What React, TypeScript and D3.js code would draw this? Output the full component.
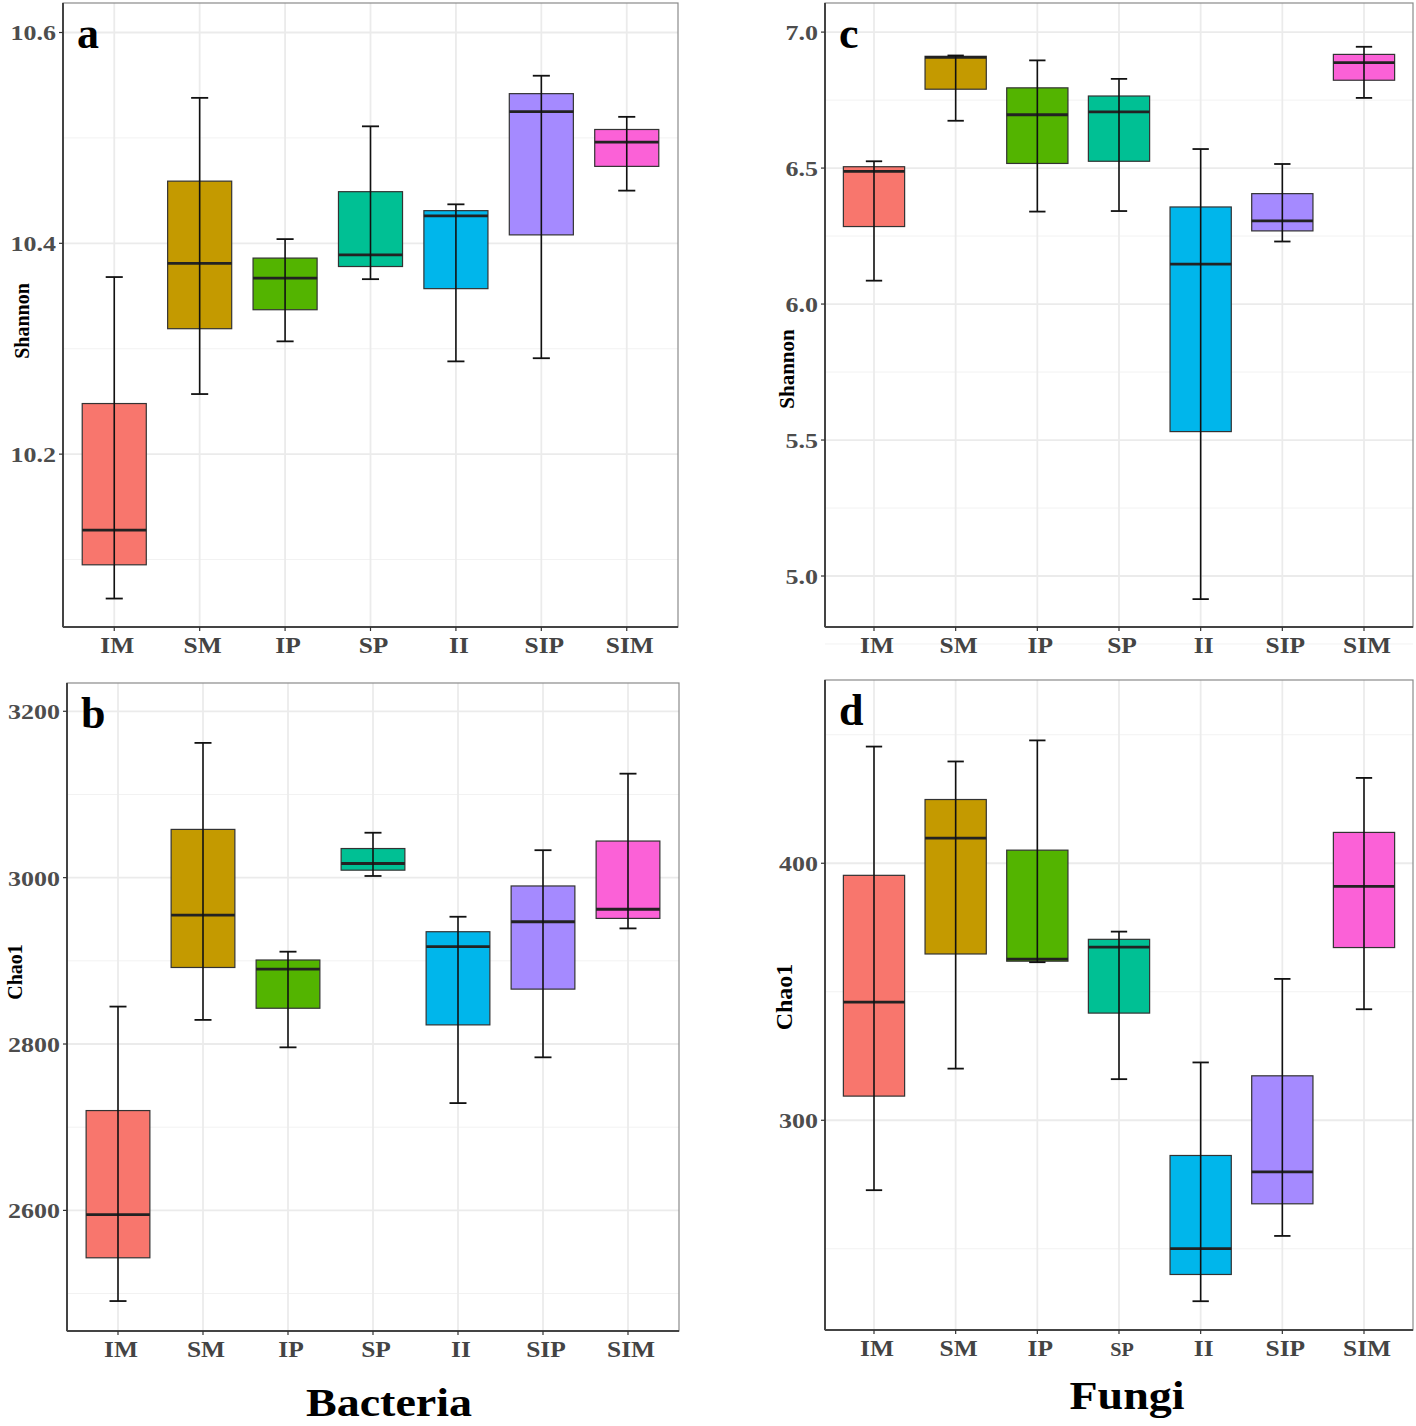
import React from "react";
import * as d3 from "d3";

const categories = ["IM", "SM", "IP", "SP", "II", "SIP", "SIM"];
const colors = ["#F8766D", "#C49A00", "#53B400", "#00C094", "#00B6EB", "#A58AFF", "#FB61D7"];

// [low whisker, Q1, median, Q3, high whisker]
const bacteriaShannon = [
  [10.063, 10.095, 10.128, 10.248, 10.368],
  [10.257, 10.319, 10.381, 10.459, 10.538],
  [10.307, 10.337, 10.367, 10.386, 10.404],
  [10.366, 10.378, 10.389, 10.449, 10.511],
  [10.288, 10.357, 10.426, 10.431, 10.437],
  [10.291, 10.408, 10.525, 10.542, 10.559],
  [10.45, 10.473, 10.496, 10.508, 10.52],
];
const bacteriaChao1 = [
  [2491, 2543, 2595, 2720, 2845],
  [2829, 2892, 2955, 3058, 3162],
  [2796, 2843, 2890, 2901, 2911],
  [3002, 3009, 3017, 3035, 3054],
  [2729, 2823, 2917, 2935, 2953],
  [2784, 2866, 2947, 2990, 3033],
  [2939, 2951, 2962, 3044, 3125],
];
const fungiShannon = [
  [6.086, 6.285, 6.488, 6.505, 6.525],
  [6.674, 6.79, 6.907, 6.911, 6.914],
  [6.34, 6.517, 6.696, 6.795, 6.896],
  [6.342, 6.525, 6.707, 6.765, 6.828],
  [4.915, 5.531, 6.147, 6.357, 6.57],
  [6.23, 6.269, 6.306, 6.406, 6.515],
  [6.758, 6.823, 6.888, 6.918, 6.946],
];
const fungiChao1 = [
  [272.8, 309.4, 346, 395.3, 445.4],
  [320.1, 364.7, 409.8, 424.8, 439.6],
  [361.5, 361.9, 362.7, 405.1, 447.8],
  [316, 341.7, 367.4, 370.4, 373.4],
  [229.6, 240, 250.1, 286.3, 322.5],
  [255, 267.5, 279.9, 317.3, 355],
  [343.2, 367.2, 391, 412, 433.2],
];

const ticksA = [10.2, 10.4, 10.6];
const minorA = [10.1, 10.3, 10.5];
const ticksB = [2600, 2800, 3000, 3200];
const minorB = [2500, 2700, 2900, 3100];
const ticksC = [5.0, 5.5, 6.0, 6.5, 7.0];
const minorC = [4.75, 5.25, 5.75, 6.25, 6.75];
const ticksD = [300, 400];
const minorD = [250, 350, 450];

const SERIF = "'Liberation Serif', 'Times New Roman', serif";

type PanelProps = {
  left: number; right: number; top: number; bottom: number;
  domain: [number, number];
  data: number[][];
  ticks: number[];
  minor: number[];
  fmt: (v: number) => string;
  letter: string;
  yTitle: string;
  yTitleX: number;
  yTitleY: number;
  yTitleSize: number;
  smallSP?: boolean;
};

function Panel(p: PanelProps) {
  const unit = (p.right - p.left) / 7.2; // ggplot discrete expansion 0.6 each side
  const x = d3.scalePoint<string>().domain(categories).range([p.left + unit * 0.6, p.right - unit * 0.6]);
  const cx = (i: number) => x(categories[i]) as number;
  const y = d3.scaleLinear().domain(p.domain).range([p.bottom, p.top]);
  const bw = unit * 0.75;
  const cap = unit * 0.2;
  return (
    <g>
      <rect x={p.left} y={p.top} width={p.right - p.left} height={p.bottom - p.top} fill="#fff" />
      {p.minor.map((v) => (
        <line key={"mi" + v} x1={p.left} x2={p.right} y1={y(v)} y2={y(v)} stroke="#f2f2f2" strokeWidth={1} />
      ))}
      {p.ticks.map((v) => (
        <line key={"ma" + v} x1={p.left} x2={p.right} y1={y(v)} y2={y(v)} stroke="#ebebeb" strokeWidth={1.8} />
      ))}
      {categories.map((c, i) => (
        <line key={"gx" + c} x1={cx(i)} x2={cx(i)} y1={p.top} y2={p.bottom} stroke="#ebebeb" strokeWidth={1.8} />
      ))}
      {p.data.map((d, i) => {
        const c = cx(i);
        return (
          <g key={"box" + i}>
            <rect x={c - bw / 2} y={y(d[3])} width={bw} height={y(d[1]) - y(d[3])} fill={colors[i]} stroke="#333" strokeWidth={1.2} />
            <line x1={c - bw / 2} x2={c + bw / 2} y1={y(d[2])} y2={y(d[2])} stroke="#222" strokeWidth={2.8} />
            <line x1={c} x2={c} y1={y(d[0])} y2={y(d[4])} stroke="#111" strokeWidth={1.6} />
            <line x1={c - cap / 2} x2={c + cap / 2} y1={y(d[0])} y2={y(d[0])} stroke="#111" strokeWidth={1.8} />
            <line x1={c - cap / 2} x2={c + cap / 2} y1={y(d[4])} y2={y(d[4])} stroke="#111" strokeWidth={1.8} />
          </g>
        );
      })}
      <rect x={p.left} y={p.top} width={p.right - p.left} height={p.bottom - p.top} fill="none" stroke="#8a8a8a" strokeWidth={1.2} />
      <line x1={p.left} x2={p.left} y1={p.top} y2={p.bottom} stroke="#444" strokeWidth={2} />
      <line x1={p.left} x2={p.right} y1={p.bottom} y2={p.bottom} stroke="#444" strokeWidth={2} />
      {p.ticks.map((v) => (
        <g key={"t" + v}>
          <line x1={p.left - 4} x2={p.left} y1={y(v)} y2={y(v)} stroke="#333" strokeWidth={1.2} />
          <text transform={`translate(${p.left - 7},${y(v)}) scale(1.18,1)`} dy="0.36em" textAnchor="end"
            fontFamily={SERIF} fontWeight="bold" fontSize={22} fill="#4d4d4d">
            {p.fmt(v)}
          </text>
        </g>
      ))}
      {categories.map((c, i) => (
        <g key={"xt" + c}>
          <line x1={cx(i)} x2={cx(i)} y1={p.bottom} y2={p.bottom + 4} stroke="#333" strokeWidth={1.2} />
          <text transform={`translate(${cx(i) + 3},${p.bottom + 26}) scale(1.06,1)`} textAnchor="middle"
            fontFamily={SERIF} fontWeight="bold" fontSize={p.smallSP && c === "SP" ? 19 : 24} fill="#444">
            {c}
          </text>
        </g>
      ))}
      <text x={p.left + 14} y={p.top + 45} fontFamily={SERIF} fontWeight="bold" fontSize={44} fill="#000">
        {p.letter}
      </text>
      <text transform={`translate(${p.yTitleX},${p.yTitleY}) rotate(-90)`} textAnchor="middle"
        fontFamily={SERIF} fontWeight="bold" fontSize={p.yTitleSize} fill="#000">
        {p.yTitle}
      </text>
    </g>
  );
}

export default function App() {
  return (
    <svg width={1416} height={1426} style={{ display: "block", position: "absolute", left: 0, top: 0, background: "#fff" }}>
      <rect width={1416} height={1426} fill="#fff" />
      <Panel left={63} right={678} top={3} bottom={627} domain={[10.036, 10.628]} data={bacteriaShannon}
        ticks={ticksA} minor={minorA} fmt={(v) => v.toFixed(1)} letter="a" yTitle="Shannon"
        yTitleX={29} yTitleY={321} yTitleSize={20} />
      <Panel left={67} right={679} top={683} bottom={1331} domain={[2455, 3234]} data={bacteriaChao1}
        ticks={ticksB} minor={minorB} fmt={(v) => String(v)} letter="b" yTitle="Chao1"
        yTitleX={22} yTitleY={972} yTitleSize={20} />
      <Panel left={825} right={1413} top={3} bottom={627} domain={[4.8125, 7.107]} data={fungiShannon}
        ticks={ticksC} minor={minorC} fmt={(v) => v.toFixed(1)} letter="c" yTitle="Shannon"
        yTitleX={794} yTitleY={369} yTitleSize={21} />
      <Panel left={825} right={1413} top={680} bottom={1330} domain={[218.4, 471.3]} data={fungiChao1}
        ticks={ticksD} minor={minorD} fmt={(v) => String(v)} letter="d" yTitle="Chao1"
        yTitleX={792} yTitleY={997} yTitleSize={24} smallSP />
      <text transform="translate(389,1416) scale(1.18,1)" textAnchor="middle" fontFamily={SERIF} fontWeight="bold" fontSize={39} fill="#000">Bacteria</text>
      <text transform="translate(1127,1409) scale(1.18,1)" textAnchor="middle" fontFamily={SERIF} fontWeight="bold" fontSize={39} fill="#000">Fungi</text>
    </svg>
  );
}
